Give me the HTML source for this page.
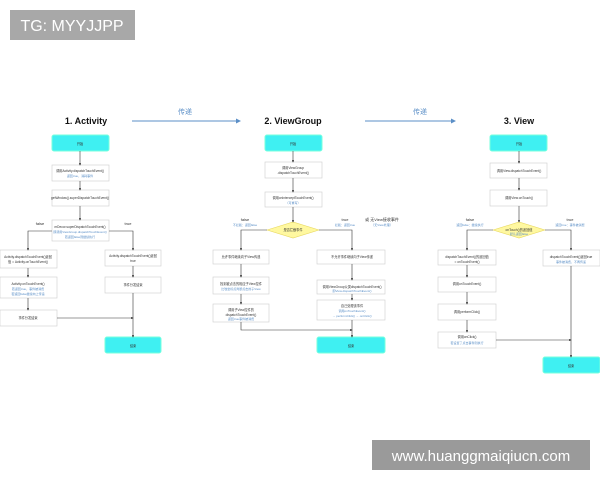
<!DOCTYPE html>
<html><head><meta charset="utf-8"><style>
html,body{margin:0;padding:0;background:#fff;width:600px;height:480px;overflow:hidden}
text{font-family:"Liberation Sans","Noto Sans CJK SC",sans-serif}
</style></head><body>
<svg width="600" height="480" viewBox="0 0 600 480" xmlns="http://www.w3.org/2000/svg">
<defs><marker id="a" markerWidth="4" markerHeight="4" refX="3" refY="2" orient="auto"><path d="M0,0L4,2L0,4z" fill="#333"/></marker>
<marker id="b" markerWidth="5" markerHeight="5" refX="4" refY="2.5" orient="auto"><path d="M0,0L5,2.5L0,5z" fill="#5b8fc7"/></marker></defs>
<rect x="10" y="10" width="125" height="30" fill="#a8a8a8"/>
<text x="72" y="31" font-size="16" fill="#fff" text-anchor="middle">TG: MYYJJPP</text>
<rect x="372" y="440" width="218" height="30" fill="#9a9a9a"/>
<text x="481" y="461" font-size="15" fill="#fff" text-anchor="middle">www.huanggmaiqiucn.com</text>

<g font-weight="bold" font-size="9" fill="#111" text-anchor="middle">
<text x="86" y="124">1. Activity</text><text x="293" y="124">2. ViewGroup</text><text x="519" y="124">3. View</text></g>
<g stroke="#5b8fc7" stroke-width="1" fill="none">
<line x1="132" y1="121" x2="240" y2="121" marker-end="url(#b)"/>
<line x1="365" y1="121" x2="455" y2="121" marker-end="url(#b)"/></g>
<g font-size="7" fill="#5b8fc7" text-anchor="middle"><text x="185" y="114">传递</text><text x="420" y="114">传递</text></g>

<g fill="#3ff0f2" stroke="#7fd">
<rect x="52" y="135" width="57" height="16" rx="2"/><rect x="105" y="337" width="56" height="16" rx="2"/>
<rect x="265" y="135" width="57" height="16" rx="2"/><rect x="317" y="337" width="68" height="16" rx="2"/>
<rect x="490" y="135" width="57" height="16" rx="2"/><rect x="543" y="357" width="57" height="16" rx="2"/></g>

<g fill="#fff" stroke="#ccc" stroke-width="0.6">
<rect x="52" y="165" width="57" height="16"/><rect x="52" y="190" width="57" height="16"/><rect x="52" y="220" width="57" height="21"/>
<rect x="0" y="250" width="57" height="18"/><rect x="0" y="277" width="57" height="21"/><rect x="0" y="310" width="57" height="16"/>
<rect x="105" y="250" width="56" height="16"/><rect x="105" y="277" width="56" height="16"/>
<rect x="265" y="162" width="57" height="16"/><rect x="265" y="192" width="57" height="15"/>
<rect x="213" y="250" width="56" height="14"/><rect x="213" y="277" width="56" height="17"/><rect x="213" y="304" width="56" height="18"/>
<rect x="317" y="250" width="68" height="14"/><rect x="317" y="280" width="68" height="14"/><rect x="317" y="300" width="68" height="20"/>
<rect x="490" y="163" width="57" height="15"/><rect x="490" y="190" width="57" height="16"/>
<rect x="438" y="250" width="58" height="15"/><rect x="438" y="277" width="58" height="15"/><rect x="438" y="304" width="58" height="16"/><rect x="438" y="332" width="58" height="16"/>
<rect x="543" y="250" width="57" height="16"/></g>
<g fill="#fff8a0" stroke="#e8d860" stroke-width="0.6">
<polygon points="267,230 293,222 319,230 293,238"/><polygon points="493,230 519,222 545,230 519,238"/></g>

<g stroke="#333" stroke-width="0.6" fill="none" marker-end="url(#a)">
<line x1="80" y1="151" x2="80" y2="165"/><line x1="80" y1="181" x2="80" y2="190"/><line x1="80" y1="206" x2="80" y2="220"/>
<polyline points="52,231 28,231 28,250"/><polyline points="109,231 133,231 133,250"/>
<line x1="28" y1="268" x2="28" y2="277"/><line x1="28" y1="298" x2="28" y2="310"/>
<line x1="133" y1="266" x2="133" y2="277"/><line x1="133" y1="293" x2="133" y2="337"/>
<line x1="57" y1="318" x2="133" y2="318"/>
<line x1="293" y1="151" x2="293" y2="162"/><line x1="293" y1="178" x2="293" y2="192"/><line x1="293" y1="207" x2="293" y2="222"/>
<polyline points="267,230 241,230 241,250"/><polyline points="319,230 352,230 352,250"/>
<line x1="241" y1="264" x2="241" y2="277"/><line x1="241" y1="294" x2="241" y2="304"/>
<line x1="352" y1="264" x2="352" y2="280"/><line x1="352" y1="294" x2="352" y2="300"/><line x1="352" y1="320" x2="352" y2="337"/>
<polyline points="241,322 241,330 352,330"/>
<line x1="519" y1="151" x2="519" y2="163"/><line x1="519" y1="178" x2="519" y2="190"/><line x1="519" y1="206" x2="519" y2="222"/>
<polyline points="493,230 467,230 467,250"/><polyline points="545,230 571,230 571,250"/>
<line x1="467" y1="265" x2="467" y2="277"/><line x1="467" y1="292" x2="467" y2="304"/><line x1="467" y1="320" x2="467" y2="332"/>
<line x1="571" y1="266" x2="571" y2="357"/><line x1="496" y1="340" x2="571" y2="340"/></g>

<g font-size="3.2" fill="#333" text-anchor="middle">
<text x="80" y="145">开始</text><text x="133" y="347">结束</text><text x="293" y="145">开始</text><text x="351" y="347">结束</text><text x="519" y="145">开始</text><text x="571" y="367">结束</text>
<text x="80" y="172">调用Activity.dispatchTouchEvent()</text><text x="80" y="199">getWindow().superDispatchTouchEvent()</text><text x="80" y="228">mDecor.superDispatchTouchEvent()</text>
<text x="28" y="258">Activity.dispatchTouchEvent()返回</text><text x="28" y="263">值 = Activity.onTouchEvent()</text>
<text x="28" y="285">Activity.onTouchEvent()</text><text x="28" y="319">事件分发结束</text>
<text x="133" y="257">Activity.dispatchTouchEvent()返回</text><text x="133" y="262">true</text><text x="133" y="286">事件分发结束</text>
<text x="293" y="169">调用ViewGroup</text><text x="293" y="174">.dispatchTouchEvent()</text><text x="293" y="199">调用onInterceptTouchEvent()</text>
<text x="293" y="231">是否拦截事件</text>
<text x="241" y="258">允许事件继续向子View传递</text><text x="241" y="285">找到被点击的相应子View控件</text><text x="241" y="311">调用子View控件的</text><text x="241" y="316">dispatchTouchEvent()</text>
<text x="352" y="258">不允许事件继续向子View传递</text><text x="352" y="288">调用ViewGroup父类dispatchTouchEvent()</text><text x="352" y="307">自己处理该事件</text>
<text x="519" y="172">调用View.dispatchTouchEvent()</text><text x="519" y="199">调用View.onTouch()</text><text x="519" y="231">onTouch()的返回值</text>
<text x="467" y="258">dispatchTouchEvent()的返回值</text><text x="467" y="263">= onTouchEvent()</text><text x="467" y="285">调用onTouchEvent()</text><text x="467" y="313">调用performClick()</text><text x="467" y="338">调用onClick()</text>
<text x="571" y="258">dispatchTouchEvent()返回true</text></g>
<g font-size="3" fill="#5b8fc7" text-anchor="middle">
<text x="80" y="177">返回true，消耗事件</text><text x="80" y="233">即调用ViewGroup.dispatchTouchEvent()</text><text x="80" y="238">若返回false则继续执行</text>
<text x="28" y="290">若返回true，事件被消费</text><text x="28" y="295">若返回false继续向上传递</text>
<text x="293" y="204">（可重写）</text><text x="241" y="290">比较坐标点判断点击的子View</text><text x="241" y="320">返回true事件被消费</text>
<text x="352" y="292">即View.dispatchTouchEvent()</text><text x="352" y="312">调用onTouchEvent()</text><text x="352" y="317">→ performClick() → onClick()</text>
<text x="519" y="235">默认返回false</text><text x="467" y="344">若设置了点击事件则执行</text><text x="571" y="263">事件被消费，不再传递</text>
<text x="245" y="226">不拦截：返回false</text><text x="345" y="226">拦截：返回true</text><text x="470" y="226">返回false：继续执行</text><text x="570" y="226">返回true：事件被消费</text><text x="382" y="226">（无View处理）</text></g>
<g font-size="4" fill="#333" text-anchor="middle">
<text x="40" y="225">false</text><text x="128" y="225">true</text><text x="245" y="221">false</text><text x="345" y="221">true</text>
<text x="470" y="221">false</text><text x="570" y="221">true</text><text x="382" y="221">或  无View接收事件</text></g>
</svg>
</body></html>
